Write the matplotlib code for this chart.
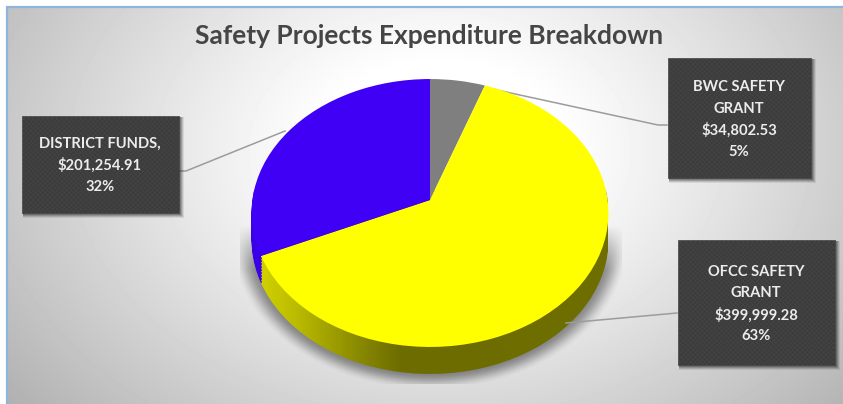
import numpy as np
import matplotlib
matplotlib.use("Agg")
import matplotlib.pyplot as plt
from matplotlib.colors import LinearSegmentedColormap
from matplotlib.patches import Rectangle
from matplotlib.path import Path
from matplotlib.transforms import Transform

plt.rcParams['font.family'] = ['Lato', 'DejaVu Sans']
plt.rcParams['hatch.linewidth'] = 0.35

title = "Safety Projects Expenditure Breakdown"
label_lines = [["BWC SAFETY", "GRANT"], ["OFCC SAFETY", "GRANT"], ["DISTRICT FUNDS,"]]
values = [34802.53, 399999.28, 201254.91]
colors = ["#7f7f7f", "#ffff00", "#3f00f5"]

W, H = 843, 404
fig = plt.figure(figsize=(W / 100, H / 100), dpi=100, facecolor="white")
ax = fig.add_axes([0, 0, 1, 1])

CX, CY, A, B, K = 430.0, 200.0, 132.7, 177.6, 0.097
DEPTH = 27


class Tilt(Transform):
    """Perspective view of the unit pie, in figure pixels."""
    input_dims = output_dims = 2
    is_affine = False
    is_separable = False
    has_inverse = False

    def __init__(self, dy=0.0):
        super().__init__()
        self.dy = dy

    def transform_non_affine(self, values):
        v = np.asarray(values, dtype=float)
        w = 1 + K * v[:, 1]
        return np.column_stack([CX + B * v[:, 0] / w, CY + self.dy - A * v[:, 1] / w])


wedges, _ = ax.pie(values, colors=colors, startangle=90, counterclock=False,
                   wedgeprops=dict(linewidth=0))
ax.set_aspect("auto")
for w in wedges:
    w.set_transform(Tilt() + ax.transData)
    w.set_zorder(5)
    w.set_clip_on(False)

# chart area background
X, Y = np.meshgrid(np.arange(W) + .5, np.arange(H) + .5)
r = np.sqrt(((X - 440) / 470) ** 2 + ((Y - 150) / 340) ** 2)
bg = 1.0 - 0.25 * np.clip(r - 0.25, 0, 1) ** 1.1 / 0.75
bg = np.clip(bg, 0, 1)
ax.imshow(bg, cmap="gray", vmin=0, vmax=1, extent=(0, W, H, 0), aspect="auto", zorder=0)
ax.add_patch(Rectangle((0, 0), W, 6, fc="white", ec="none", zorder=1))
ax.add_patch(Rectangle((0, 0), 6, H, fc="white", ec="none", zorder=1))
ax.plot([7, 7, W], [H, 6.5, 6.5], color="#8db6de", lw=1.6, zorder=1.5, solid_joinstyle="miter")

# soft pie shadow
d = np.sqrt(((X - 430) / 178) ** 2 + ((Y - 240) / 134) ** 2)
a = np.clip((1.12 - d) / 0.13, 0, 1)
a = a * a * (3 - 2 * a) * 0.42
a *= np.clip((Y - 225) / 45, 0, 1)
a[(X < 240) | (X > 622) | (Y > 384)] = 0
shadow = np.zeros((H, W, 4))
shadow[..., 3] = a
ax.imshow(shadow, extent=(0, W, H, 0), aspect="auto", zorder=2)


# extruded side of the pie
def swept(wedge):
    return Path.make_compound_path(*[Tilt(dy=float(s)).transform_path(wedge.get_path())
                                     for s in range(0, DEPTH + 1, 3)])


side_cmap = LinearSegmentedColormap.from_list(
    "side", [(0, "#d6d600"), (0.12, "#bcbc00"), (0.28, "#8f8f00"), (0.42, "#6c6c00"), (1, "#6e6e00")])
grad = np.linspace(0, 1, 357)[None, :]
ext = (251, 608, 380, 190)
blue_side = ax.imshow(np.zeros((1, 1)), cmap=LinearSegmentedColormap.from_list("b", ["#3a00e6", "#3a00e6"]),
                      extent=ext, aspect="auto", zorder=3)
blue_side.set_clip_path(swept(wedges[2]), ax.transData)
yellow_side = ax.imshow(grad, cmap=side_cmap, vmin=0, vmax=1, extent=ext, aspect="auto", zorder=4)
yellow_side.set_clip_path(swept(wedges[1]), ax.transData)

# leader lines
line_kw = dict(color="#9c9c9c", lw=1.1, zorder=4.5)
ax.plot([667, 658, 483], [125, 125, 87], **line_kw)
ax.plot([677, 566], [313, 323], **line_kw)
ax.plot([180, 186, 285], [171, 171, 131], **line_kw)

# data label boxes
total = sum(values)
boxes = [(668, 58, 143, 120), (678, 240, 157, 125), (22, 116, 157, 97)]
for names, v, (x, y, bw, bh) in zip(label_lines, values, boxes):
    for s, al in ((4, .08), (3, .12), (2, .16), (1, .2)):
        ax.add_patch(Rectangle((x + 1, y + 1), bw + s, bh + s,
                               fc="black", ec="none", alpha=al, zorder=6))
    ax.add_patch(Rectangle((x, y), bw, bh, fc="#3c3c3c", ec="#474747", lw=0.5,
                           hatch="xxxxxxx", zorder=7))
    lines = names + [f"${v:,.2f}", f"{v / total:.0%}"]
    step = 21.5
    y0 = y + bh / 2 - step * (len(lines) - 1) / 2 + (1.7 if len(lines) == 4 else 1)
    for i, t in enumerate(lines):
        ax.text(x + bw / 2 - 0.5, y0 + i * step, t, color="#ececec", fontsize=10.6, fontweight="bold",
                ha="center", va="center", zorder=8)

ax.text(429.5, 36.5, title, color="#454545", fontsize=19, fontweight="bold",
        ha="center", va="center", zorder=8)

ax.set_xlim(0, W)
ax.set_ylim(H, 0)
ax.set_axis_off()
fig.savefig("out.png", dpi=100, facecolor="white")
